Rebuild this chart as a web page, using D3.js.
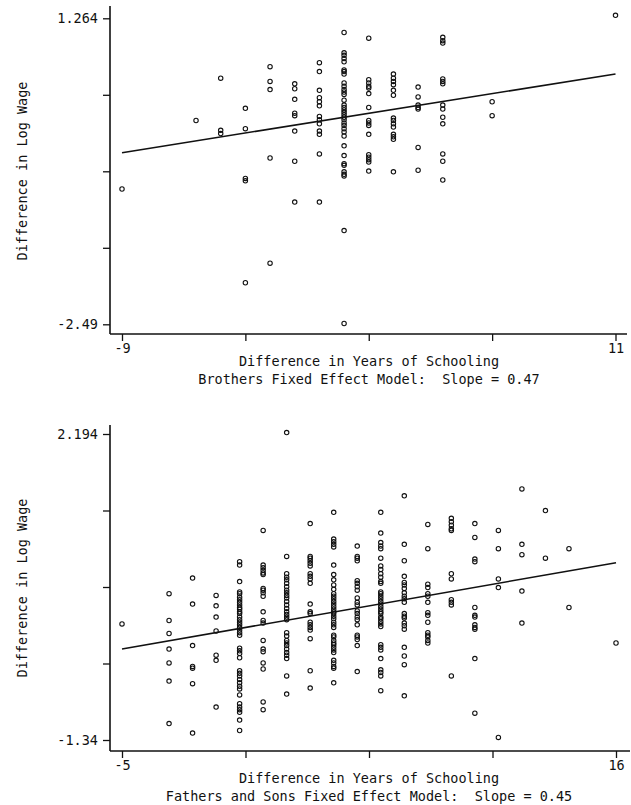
<!DOCTYPE html>
<html>
<head>
<meta charset="utf-8">
<script src="https://cdnjs.cloudflare.com/ajax/libs/d3/7.8.5/d3.min.js"></script>
<style>
  body { margin: 0; background: #fff; }
  text { font-family: "DejaVu Sans Mono", monospace; font-size: 13.5px; fill: #111; }
</style>
</head>
<body>
<div id="board"></div>
<script>
// BROTHERS DATA (difference in schooling -> differences in log wage)
var brothersSchool = [-9, -6, -5, -4, -3, -2, -1, 0, 1, 2, 3, 4, 6, 11];
var brothersWage = [
  [-0.83],
  [0.01],
  [0.53, -0.11, -0.15],
  [0.16, -0.09, -0.70, -0.73, -1.98],
  [0.67, 0.49, 0.39, -0.45, -1.74],
  [0.46, 0.40, 0.27, 0.10, 0.07, -0.12, -0.49, -0.99],
  [0.72, 0.61, 0.38, 0.29, 0.24, 0.19, 0.06, 0.02, -0.03, -0.12, -0.16, -0.40, -0.99],
  [1.09, 0.84, 0.81, 0.77, 0.73, 0.63, 0.61, 0.58, 0.47, 0.43, 0.39, 0.36, 0.33, 0.26, 0.20, 0.17,
   0.14, 0.11, 0.08, 0.05, 0.02, -0.02, -0.05, -0.09, -0.13, -0.18, -0.30, -0.42, -0.52, -0.54,
   -0.62, -0.65, -0.67, -1.34, -2.48],
  [1.02, 0.51, 0.47, 0.43, 0.41, 0.34, 0.17, 0.01, -0.02, -0.05, -0.16, -0.41, -0.44, -0.47, -0.50, -0.61],
  [0.58, 0.53, 0.49, 0.45, 0.38, 0.32, 0.04, 0.01, -0.03, -0.07, -0.16, -0.19, -0.22, -0.62],
  [0.42, 0.30, 0.20, 0.17, 0.15, -0.32, -0.60],
  [1.03, 0.99, 0.96, 0.52, 0.49, 0.46, 0.20, 0.15, 0.05, -0.03, -0.40, -0.49, -0.72],
  [0.24, 0.07],
  [1.30]
];
var brothersFit = [0.05, 0.0483];   // intercept, slope
var brothersXTicks = [-9, -4, 1, 6, 11];
var brothersYTicks = [-2.49, -1.5515, -0.613, 0.3255, 1.264];
var brothersXLabels = ["-9", "11"];
var brothersYLabels = ["-2.49", "1.264"];

// FATHERS AND SONS DATA
var fathersSchool = [-5, -3, -2, -1, 0, 1, 2, 3, 4, 5, 6, 7, 8, 9, 10, 11, 12, 13, 14, 16];
var fathersWage = [
  [0.00],
  [0.35, 0.04, -0.11, -0.29, -0.45, -0.66, -1.15],
  [0.53, 0.23, -0.25, -0.49, -0.51, -0.69, -1.26],
  [0.33, 0.21, 0.08, -0.08, -0.36, -0.42, -0.96],
  [0.72, 0.68, 0.49, 0.37, 0.35, 0.31, 0.28, 0.25, 0.22, 0.19, 0.17, 0.14, 0.12, 0.08, 0.05, 0.02,
   -0.01, -0.04, -0.07, -0.10, -0.13, -0.28, -0.31, -0.34, -0.39, -0.54, -0.57, -0.60, -0.64,
   -0.68, -0.72, -0.75, -0.82, -0.92, -0.96, -0.99, -1.02, -1.11, -1.23],
  [1.08, 0.68, 0.65, 0.62, 0.59, 0.57, 0.41, 0.39, 0.36, 0.32, 0.14, 0.04, 0.01, -0.19, -0.29,
   -0.32, -0.45, -0.52, -0.90, -0.99],
  [2.21, 0.78, 0.58, 0.54, 0.51, 0.47, 0.43, 0.39, 0.36, 0.33, 0.30, 0.26, 0.22, 0.18, 0.14, 0.11,
   0.08, 0.05, -0.10, -0.14, -0.19, -0.22, -0.25, -0.29, -0.33, -0.36, -0.40, -0.60, -0.81],
  [1.16, 0.78, 0.76, 0.73, 0.70, 0.67, 0.58, 0.55, 0.52, 0.47, 0.23, 0.14, 0.12, 0.02, -0.01,
   -0.04, -0.07, -0.17, -0.54, -0.74],
  [1.29, 0.98, 0.95, 0.92, 0.89, 0.68, 0.57, 0.51, 0.45, 0.40, 0.35, 0.32, 0.29, 0.26, 0.23, 0.20,
   0.17, 0.14, 0.12, 0.09, 0.06, 0.02, -0.01, -0.04, -0.13, -0.15, -0.19, -0.22, -0.24, -0.27,
   -0.30, -0.33, -0.42, -0.45, -0.49, -0.51, -0.68],
  [0.90, 0.78, 0.76, 0.73, 0.50, 0.47, 0.43, 0.39, 0.30, 0.25, 0.22, 0.15, 0.12, 0.08, 0.05,
   -0.01, -0.13, -0.15, -0.18, -0.25, -0.55],
  [1.29, 1.05, 0.94, 0.90, 0.87, 0.76, 0.67, 0.63, 0.58, 0.54, 0.49, 0.47, 0.37, 0.35, 0.32, 0.29,
   0.26, 0.23, 0.20, 0.17, 0.14, 0.12, 0.08, 0.06, 0.03, 0.00, -0.03, -0.24, -0.27, -0.30, -0.40,
   -0.53, -0.56, -0.60, -0.77],
  [1.48, 0.92, 0.73, 0.55, 0.48, 0.45, 0.41, 0.36, 0.32, 0.29, 0.25, 0.12, 0.09, 0.07, 0.01,
   -0.02, -0.06, -0.27, -0.37, -0.47, -0.83],
  [1.15, 0.87, 0.46, 0.42, 0.35, 0.32, 0.25, 0.13, 0.10, 0.02, -0.10, -0.13, -0.15, -0.19, -0.22],
  [1.22, 1.18, 1.14, 1.10, 1.08, 0.58, 0.52, 0.28, 0.25, 0.22, -0.60],
  [1.16, 1.00, 0.75, 0.72, 0.19, 0.10, 0.08, -0.01, -0.04, -0.06, -0.40, -1.03],
  [1.08, 0.87, 0.52, 0.42, -1.31],
  [1.56, 0.92, 0.80, 0.38, 0.01],
  [1.31, 0.76],
  [0.87, 0.19],
  [-0.22]
];
var fathersFit = [-0.052, 0.0475];
var fathersXTicks = [-5, 0.25, 5.5, 10.75, 16];
var fathersYTicks = [-1.34, -0.4565, 0.427, 1.3105, 2.194];
var fathersXLabels = ["-5", "16"];
var fathersYLabels = ["-1.34", "2.194"];

var yTitle = "Difference in Log Wage";
var xTitle = "Difference in Years of Schooling";

var svg = d3.select("#board")
            .append("svg")
            .attr("width", 631)
            .attr("height", 805)
            .style("background", "#fff");

var drawPanel = function(p) {
  var x = d3.scaleLinear().domain(p.xDomain).range(p.xRange);
  var y = d3.scaleLinear().domain(p.yDomain).range(p.yRange);
  var g = svg.append("g");

  // AXIS LINES
  g.append("line").attr("x1", p.left).attr("x2", p.left).attr("y1", p.top).attr("y2", p.bottom)
    .attr("stroke", "#111").attr("stroke-width", 1.6);
  g.append("line").attr("x1", p.left).attr("x2", p.right).attr("y1", p.bottom).attr("y2", p.bottom)
    .attr("stroke", "#111").attr("stroke-width", 1.6);

  // TICKS
  var ends = [p.yTicks[0], p.yTicks[p.yTicks.length - 1]];
  g.append("g")
    .attr("transform", "translate(" + p.left + ",0)")
    .call(d3.axisLeft(y).tickValues(p.yTicks).tickSize(7).tickPadding(5)
      .tickFormat(function(d) { var i = ends.indexOf(d); return i < 0 ? "" : p.yLabels[i]; }))
    .call(function(a) { a.select(".domain").remove(); a.selectAll("line").attr("stroke", "#111").attr("stroke-width", 1.3); });

  var xEnds = [p.xTicks[0], p.xTicks[p.xTicks.length - 1]];
  g.append("g")
    .attr("transform", "translate(0," + p.bottom + ")")
    .call(d3.axisBottom(x).tickValues(p.xTicks).tickSize(7).tickPadding(2)
      .tickFormat(function(d) { var i = xEnds.indexOf(d); return i < 0 ? "" : p.xLabels[i]; }))
    .call(function(a) { a.select(".domain").remove(); a.selectAll("line").attr("stroke", "#111").attr("stroke-width", 1.3); });
  g.selectAll(".tick text").style("font-family", "DejaVu Sans Mono, monospace").style("font-size", "13.5px").attr("fill", "#111");

  // POINTS
  var pts = [];
  p.school.forEach(function(s, i) {
    p.wage[i].forEach(function(w) { pts.push([s, w]); });
  });
  g.selectAll("circle").data(pts).enter().append("circle")
    .attr("cx", function(d) { return x(d[0]); })
    .attr("cy", function(d) { return y(d[1]); })
    .attr("r", 2.2)
    .attr("fill", "none")
    .attr("stroke", "#111")
    .attr("stroke-width", 1.1);

  // FITTED LINE
  var x0 = p.school[0], x1 = p.school[p.school.length - 1];
  g.append("line")
    .attr("x1", x(x0)).attr("y1", y(p.fit[0] + p.fit[1] * x0))
    .attr("x2", x(x1)).attr("y2", y(p.fit[0] + p.fit[1] * x1))
    .attr("stroke", "#111").attr("stroke-width", 1.6);

  // LABELS
  g.append("text").attr("transform", "translate(26.5," + p.yMid + ") rotate(-90)")
    .style("text-anchor", "middle").text(yTitle);
  g.append("text").attr("x", 369).attr("y", p.bottom + 32)
    .style("text-anchor", "middle").text(xTitle);
  g.append("text").attr("x", 369).attr("y", p.bottom + 49.5)
    .style("text-anchor", "middle").style("white-space", "pre").text(p.caption);
};

drawPanel({
  school: brothersSchool, wage: brothersWage, fit: brothersFit,
  xTicks: brothersXTicks, yTicks: brothersYTicks, xLabels: brothersXLabels, yLabels: brothersYLabels,
  xDomain: [-9, 11], xRange: [122, 615.5], yDomain: [-2.49, 1.264], yRange: [324.3, 18.3],
  left: 110, right: 627, top: 6, bottom: 334, yMid: 171,
  caption: "Brothers Fixed Effect Model:  Slope = 0.47"
});

drawPanel({
  school: fathersSchool, wage: fathersWage, fit: fathersFit,
  xTicks: fathersXTicks, yTicks: fathersYTicks, xLabels: fathersXLabels, yLabels: fathersYLabels,
  xDomain: [-5, 16], xRange: [122, 616], yDomain: [-1.34, 2.194], yRange: [740, 434],
  left: 110, right: 630, top: 425, bottom: 751, yMid: 588,
  caption: "Fathers and Sons Fixed Effect Model:  Slope = 0.45"
});
</script>
</body>
</html>
